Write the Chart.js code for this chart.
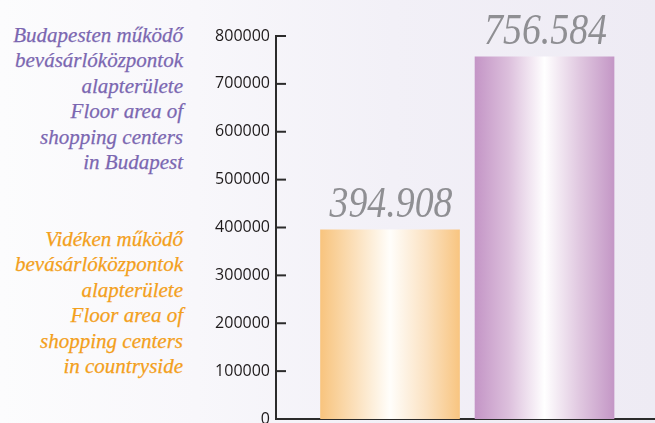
<!DOCTYPE html>
<html>
<head>
<meta charset="utf-8">
<script src="https://cdn.jsdelivr.net/npm/chart.js@4/dist/chart.umd.min.js"></script>
<style>
  html, body { margin: 0; padding: 0; width: 655px; height: 423px; overflow: hidden; }
  body {
    position: relative;
    background: linear-gradient(90deg, #fcfcfd 0%, #f8f7fb 30%, #f2f0f7 60%, #eeebf4 100%);
  }
  #chart { position: absolute; left: 0; top: 0; }
  .note {
    position: absolute;
    right: 472px;
    width: 200px;
    text-align: right;
    font-family: "Liberation Serif", serif;
    font-style: italic;
    font-size: 21px;
    line-height: 25.4px;
    white-space: nowrap;
    -webkit-text-stroke: 0.25px;
  }
  #noteBp { top: 23px; color: #7b67b1; }
  #noteCs { top: 227px; color: #f3a01c; }
</style>
</head>
<body>
<div class="note" id="noteBp">Budapesten működő<br>bevásárlóközpontok<br>alapterülete<br>Floor area of<br>shopping centers<br>in Budapest</div>
<div class="note" id="noteCs">Vidéken működő<br>bevásárlóközpontok<br>alapterülete<br>Floor area of<br>shopping centers<br>in countryside</div>
<canvas id="chart" width="655" height="440"></canvas>
<script>
const categories = ["Vidék", "Budapest"];
const floorArea = [394908, 756584];
const yTicks = [0, 100000, 200000, 300000, 400000, 500000, 600000, 700000, 800000];

const GRADS = [
  ["#f8c47e", "#fbdfb9", "#fffefb", "#fbe2c2", "#f8c581"],
  ["#c495c6", "#dcbfdc", "#ffffff", "#dfc6df", "#c497c6"],
];
const BAR_W = 139;

function fmtHu(v) {
  return String(v).replace(/\B(?=(\d{3})+(?!\d))/g, ".");
}

function barFill(ctx) {
  const chart = ctx.chart;
  const xs = chart.scales.x;
  if (!chart.chartArea || !xs) return GRADS[ctx.dataIndex][0];
  const cx = xs.getPixelForValue(ctx.dataIndex);
  const g = chart.ctx.createLinearGradient(cx - BAR_W / 2, 0, cx + BAR_W / 2, 0);
  const stops = GRADS[ctx.dataIndex];
  [0, 0.24, 0.5, 0.76, 1].forEach((p, i) => g.addColorStop(p, stops[i]));
  return g;
}

const innerTicks = {
  id: "innerTicks",
  afterDraw(chart) {
    const ys = chart.scales.y;
    const c = chart.ctx;
    c.save();
    c.strokeStyle = "#2b2b2b";
    c.lineWidth = 2;
    yTicks.forEach((t) => {
      const y = ys.getPixelForValue(t);
      c.beginPath();
      c.moveTo(chart.chartArea.left, y);
      c.lineTo(chart.chartArea.left + 10, y);
      c.stroke();
    });
    c.restore();
  },
};

const valueLabels = {
  id: "valueLabels",
  afterDatasetsDraw(chart) {
    const meta = chart.getDatasetMeta(0);
    const c = chart.ctx;
    c.save();
    c.fillStyle = "#8f8f93";
    c.font = "italic 44px 'Liberation Serif'";
    c.textAlign = "center";
    c.textBaseline = "alphabetic";
    meta.data.forEach((bar, i) => {
      c.save();
      c.translate(bar.x + 1, bar.y - 13);
      c.scale(0.86, 1);
      c.fillText(fmtHu(floorArea[i]), 0, 0);
      c.restore();
    });
    c.restore();
  },
};

new Chart(document.getElementById("chart"), {
  type: "bar",
  data: {
    datasets: [
      {
        label: "Floor area",
        data: floorArea.map((v, i) => ({ x: i, y: v })),
        backgroundColor: barFill,
        borderWidth: 0,
        barThickness: BAR_W,
      },
    ],
  },
  options: {
    responsive: false,
    animation: false,
    devicePixelRatio: 1,
    layout: { padding: { left: 0, right: 0, top: 36, bottom: 21 } },
    plugins: {
      legend: { display: false },
      tooltip: { enabled: false },
    },
    scales: {
      x: {
        type: "linear",
        offset: false,
        min: -0.738,
        max: 1.715,
        ticks: { display: false },
        grid: { display: false, drawTicks: false, offset: false },
        border: { display: true, color: "#2b2b2b", width: 2 },
      },
      y: {
        min: 0,
        max: 800000,
        afterFit: (s) => { s.width = 276; },
        afterBuildTicks: (s) => { s.ticks = yTicks.map((v) => ({ value: v })); },
        ticks: {
          padding: 6,
          color: "#1e1a1b",
          font: { family: "'Open Sans'", size: 16 },
          callback: (v) => String(v),
        },
        grid: { display: false, drawTicks: false },
        border: { display: true, color: "#2b2b2b", width: 2 },
      },
    },
  },
  plugins: [innerTicks, valueLabels],
});
</script>
</body>
</html>
